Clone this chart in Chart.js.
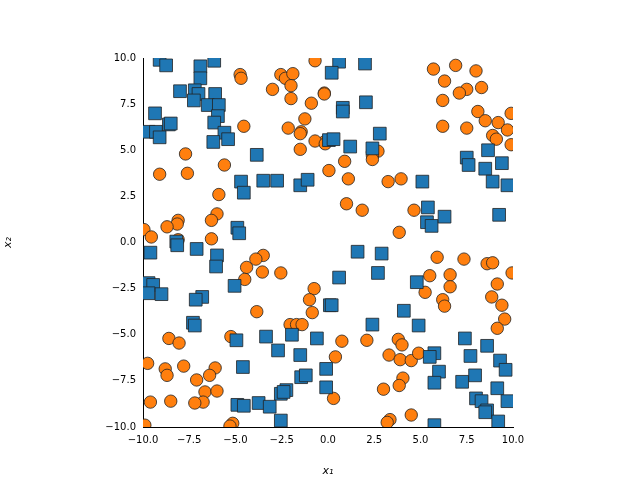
<!DOCTYPE html>
<html lang="en">
<head>
<meta charset="UTF-8">
<title>Scatter</title>
<script src="https://cdn.jsdelivr.net/npm/chart.js"></script>
<style>
    body { margin: 0; background: #fff; }
    canvas { display: block; }
</style>
</head>
<body>
<canvas id="chart" width="640" height="480"></canvas>
<script>
    // class 0 (blue squares)
    const blueX = [-9.1,-8.75,-6.9,-6.15,-6.9,-8.0,-7.2,-7.0,-7.25,-6.1,-6.5,-5.9,-5.95,-6.15,-9.35,-8.6,-8.5,-9.7,-9.3,-9.1,-5.6,-5.4,-6.2,-3.85,-4.7,-4.55,-3.5,-2.75,-1.5,-1.1,-4.9,-4.8,-8.2,0.05,
        0.6,0.2,2.0,0.8,0.8,2.05,2.8,0.3,1.2,2.4,5.1,5.4,5.35,5.6,6.3,7.5,7.6,8.65,8.5,8.9,9.4,9.7,9.25,
        -9.6,-8.15,-7.1,-6.0,-6.05,-9.7,-9.45,-9.7,-9.0,-6.8,-7.15,-5.05,-7.3,-7.2,-4.95,-3.35,-1.95,-0.6,-2.7,-1.5,0.1,-4.6,-0.1,-1.45,-1.2,-0.1,-2.25,-2.55,-2.4,-4.9,-4.55,-3.75,-3.15,-2.55,
        1.6,2.9,0.6,2.7,4.8,0.2,4.1,2.4,4.9,7.4,8.6,7.7,5.75,5.5,9.3,9.6,6.0,5.75,7.25,7.95,9.15,8.0,8.3,8.6,8.5,9.7,9.2,5.75];
    const blueY = [9.9,9.6,9.55,9.85,8.9,8.2,8.25,8.05,7.7,8.05,7.45,7.45,6.85,6.5,7.0,6.4,6.45,6.0,6.0,5.7,5.95,5.6,5.45,4.75,3.3,2.7,3.35,3.35,3.1,3.4,0.8,0.5,0.05,5.55,
        9.8,9.2,9.7,7.3,7.1,7.6,5.9,5.6,5.2,5.1,3.3,1.9,1.1,0.9,1.4,4.6,4.2,5.0,4.0,3.3,4.3,3.1,1.5,
        -0.55,-0.15,-0.35,-0.7,-1.3,-2.2,-2.3,-2.75,-2.8,-2.95,-3.1,-2.35,-4.35,-4.5,-5.3,-5.1,-5.0,-5.2,-5.85,-6.1,-3.4,-6.75,-6.85,-7.3,-7.2,-7.85,-8.0,-8.2,-8.1,-8.8,-8.85,-8.7,-8.9,-9.65,
        -0.5,-0.6,-1.9,-1.65,-2.15,-3.4,-3.7,-4.45,-4.5,-5.2,-5.6,-6.15,-6.0,-6.2,-6.4,-6.9,-7.0,-7.6,-7.55,-7.2,-7.9,-8.45,-8.6,-9.1,-9.2,-8.6,-9.7,-9.9];

    // class 1 (orange circles)
    const orangeX = [5.7,6.9,8.0,6.3,7.5,7.1,8.3,6.2,8.1,8.5,9.2,9.9,6.2,7.5,9.7,8.9,9.1,9.9,-0.2,-0.2,2.4,2.7,2.4,2.4,0.9,0.05,1.1,3.25,3.95,1.0,1.85,4.65,3.85,
        -4.75,-4.7,-2.55,-2.3,-1.9,-2.0,-3.0,-0.7,-0.9,-0.2,-2.0,-1.25,-2.15,-1.45,-1.5,-1.5,-0.7,-0.15,-4.55,-7.7,-9.1,-7.6,-5.6,-5.9,-6.0,-6.3,-8.1,-8.15,-8.7,-9.95,-9.55,-8.1,-6.3,
        -3.5,-3.9,-4.4,-3.55,-2.55,-4.5,-0.75,-1.0,-0.85,-3.85,-2.05,-1.7,-1.4,-5.25,-8.6,-8.05,-9.75,-8.8,-8.7,-7.8,-6.1,-6.4,-7.1,-6.65,-6.0,-6.75,-7.2,-9.6,-8.5,-9.9,-5.15,-5.3,
        5.9,7.35,8.6,8.9,9.95,5.5,6.6,6.6,5.25,9.15,8.85,6.2,6.3,9.4,9.55,9.15,0.75,2.1,3.8,4.0,3.3,3.9,4.5,4.9,0.4,4.05,3.85,3.0,0.3,4.5,3.35,3.2];
    const orangeY = [9.4,9.6,9.3,8.75,8.3,8.1,8.4,7.7,7.1,6.6,6.5,7.0,6.3,6.2,6.1,5.8,5.6,5.3,8.1,5.45,4.9,4.95,4.7,4.5,4.4,3.9,3.45,3.3,3.45,2.1,1.75,1.75,0.55,
        9.1,8.9,9.1,8.9,9.15,8.5,8.3,9.85,7.55,8.05,7.8,6.7,6.2,6.0,5.9,5.05,5.5,5.35,6.3,4.8,3.7,3.75,4.2,2.6,1.55,1.2,1.2,1.0,0.85,0.7,0.3,0.15,0.2,
        -0.7,-0.9,-1.35,-1.6,-1.65,-2.0,-2.5,-3.1,-3.8,-3.75,-4.45,-4.45,-4.45,-5.1,-5.2,-5.45,-6.55,-6.85,-7.2,-6.7,-6.8,-7.2,-7.45,-8.1,-8.05,-8.65,-8.7,-8.65,-8.6,-9.9,-9.8,-9.95,
        -0.8,-0.9,-1.15,-1.1,-1.65,-1.8,-1.75,-2.4,-2.7,-2.25,-2.95,-3.1,-3.45,-3.4,-4.15,-4.65,-5.35,-5.3,-5.25,-5.55,-6.1,-6.35,-6.4,-6.0,-6.2,-7.35,-7.75,-7.95,-8.45,-9.35,-9.6,-9.75];

    const ticks = [-10, -7.5, -5, -2.5, 0, 2.5, 5, 7.5, 10];

    function pts(xs, ys) {
        return xs.map((x, i) => ({ x: x, y: ys[i] }));
    }

    function tickLabel(v) {
        return v.toFixed(1).replace('-', '\u2212');
    }

    function axis(title, fitKey, fitVal) {
        return {
            type: 'linear',
            min: -10,
            max: 10,
            afterBuildTicks: s => { s.ticks = ticks.map(v => ({ value: v })); },
            afterFit: s => { s[fitKey] = fitVal; },
            grid: { display: false, drawTicks: true, tickLength: 4, tickColor: '#000' },
            border: { color: '#000', width: 1 },
            ticks: {
                color: '#000',
                font: { family: 'DejaVu Sans', size: 10 },
                padding: 3,
                maxRotation: 0,
                callback: v => tickLabel(v)
            },
            title: {
                display: true,
                text: title,
                color: '#000',
                font: { family: 'DejaVu Sans', size: 11, style: 'italic' },
                padding: 2
            }
        };
    }

    new Chart(document.getElementById('chart'), {
        type: 'scatter',
        data: {
            datasets: [{
                data: pts(blueX, blueY),
                pointStyle: 'rect',
                pointRadius: 9,
                backgroundColor: '#1f77b4',
                borderColor: '#222',
                borderWidth: 0.8
            }, {
                data: pts(orangeX, orangeY),
                pointStyle: 'circle',
                pointRadius: 6.2,
                backgroundColor: '#ff7f0e',
                borderColor: '#222',
                borderWidth: 0.8
            }]
        },
        options: {
            responsive: false,
            animation: false,
            layout: { padding: { left: 0, right: 127, top: 58, bottom: 0 } },
            plugins: { legend: { display: false }, tooltip: { enabled: false } },
            scales: {
                x: Object.assign(axis('x\u2081', 'height', 53), { position: 'bottom' }),
                y: Object.assign(axis('x\u2082', 'width', 143), { position: 'left' })
            }
        }
    });
</script>
</body>
</html>
